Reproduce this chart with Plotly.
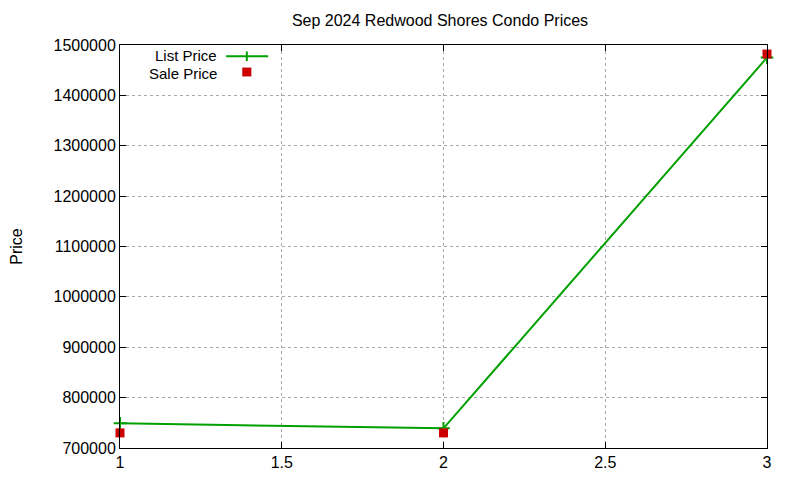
import plotly.graph_objects as go

# Data
listing = [1, 2, 3]
list_price = [749000, 739000, 1475000]
sale_price = [730000, 730000, 1482000]

x_ticks = [1, 1.5, 2, 2.5, 3]
y_ticks = list(range(700000, 1500001, 100000))

green = "#00a000"
red = "#cc0000"
font = dict(family="Liberation Sans, Arial, sans-serif", size=16, color="black")
key_font = dict(family="Liberation Sans, Arial, sans-serif", size=15, color="black")

fig = go.Figure()

fig.add_trace(go.Scatter(
    x=listing, y=list_price, name="List Price",
    mode="lines+markers",
    line=dict(color=green, width=2),
    marker=dict(symbol="cross-thin", size=9, line=dict(color=green, width=2)),
    cliponaxis=False,
))
fig.add_trace(go.Scatter(
    x=listing, y=sale_price, name="Sale Price",
    mode="markers",
    marker=dict(symbol="square", size=9, color=red),
    cliponaxis=False,
))

axis_common = dict(
    showline=True, linecolor="black", linewidth=1, mirror="ticks",
    ticks="inside", ticklen=6, tickcolor="black",
    showgrid=True, gridcolor="#a8a8a8", griddash="dot", gridwidth=1,
    zeroline=False, tickfont=font,
)

fig.update_xaxes(range=[1, 3], tickvals=x_ticks, ticktext=[str(v) for v in x_ticks], **axis_common)
fig.update_yaxes(range=[700000, 1500000], tickvals=y_ticks, tickformat="d", automargin=False,
                 title=dict(text="Price", font=font, standoff=30), **axis_common)

# gnuplot-style legend: label right-aligned, sample to the right
fig.add_annotation(xref="paper", yref="paper", x=0.1515, y=0.975, text="List Price",
                   showarrow=False, xanchor="right", yanchor="middle", font=key_font, borderpad=0)
fig.add_annotation(xref="paper", yref="paper", x=0.1515, y=0.930, text="Sale Price",
                   showarrow=False, xanchor="right", yanchor="middle", font=key_font, borderpad=0)
fig.add_shape(type="line", xref="paper", yref="paper", x0=0.164, x1=0.229, y0=0.972, y1=0.972,
              line=dict(color=green, width=2))
fig.add_shape(type="line", xref="paper", yref="paper", x0=0.196, x1=0.196, y0=0.960, y1=0.984,
              line=dict(color=green, width=2))
fig.add_shape(type="rect", xref="paper", yref="paper", x0=0.189, x1=0.203, y0=0.922, y1=0.944,
              line=dict(width=0), fillcolor=red)

fig.update_layout(
    width=800, height=480,
    margin=dict(l=112, r=41, t=37, b=40),
    title=dict(text="Sep 2024 Redwood Shores Condo Prices", x=0.54, xanchor="center",
               y=0.975, yanchor="middle", font=font),
    showlegend=False,
    plot_bgcolor="white", paper_bgcolor="white",
    font=font,
)

fig.write_html("out.html")
